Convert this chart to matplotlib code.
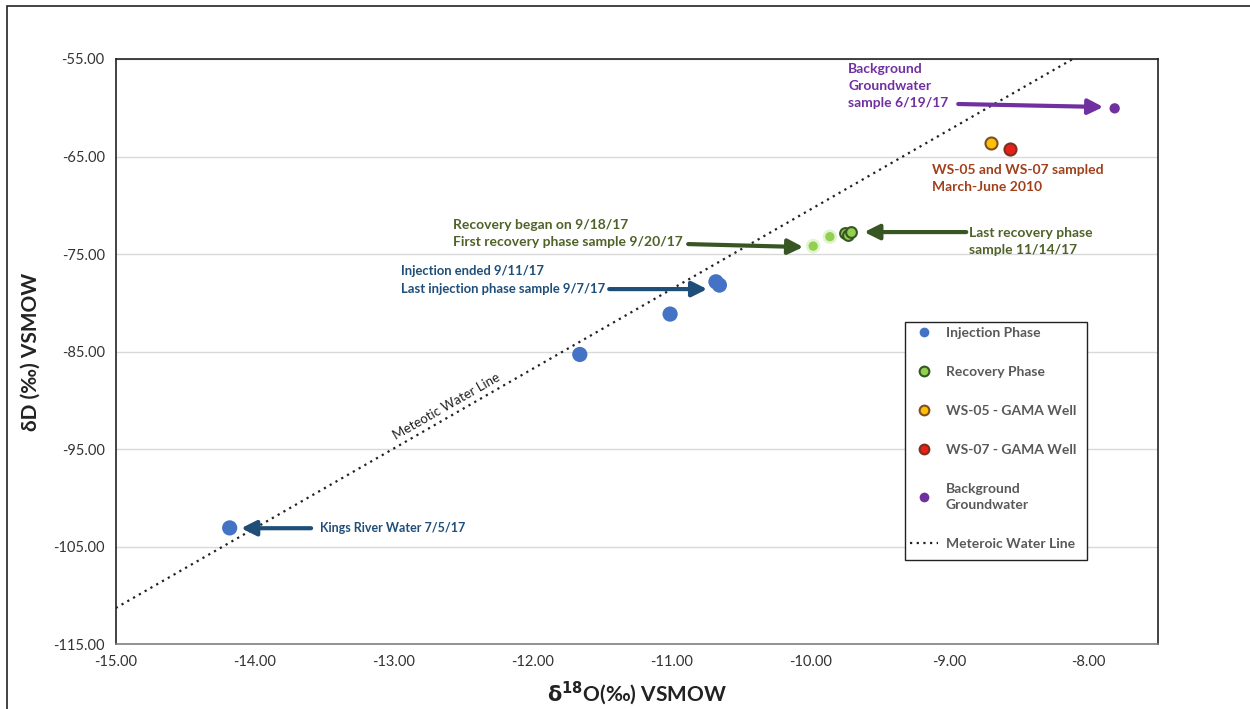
import matplotlib
matplotlib.use("Agg")
import matplotlib.pyplot as plt
from matplotlib.lines import Line2D
import numpy as np

plt.rcParams['font.family'] = ['Lato', 'DejaVu Sans']

# ---- data ----
inj_x = [-14.18, -11.66, -11.01, -10.68, -10.655]
inj_y = [-103.07, -85.29, -81.15, -77.84, -78.18]
rec_x_early = [-9.98, -9.86]
rec_y_early = [-74.18, -73.22]
rec_x_late = [-9.75, -9.73, -9.71]
rec_y_late = [-72.88, -73.05, -72.78]
ws05_x, ws05_y = [-8.70], [-63.65]
ws07_x, ws07_y = [-8.56], [-64.23]
bg_x, bg_y = [-7.81], [-60.06]
gmwl_slope, gmwl_int = 8.17, 11.27
xticks = [-15, -14, -13, -12, -11, -10, -9, -8]
yticks = [-55, -65, -75, -85, -95, -105, -115]

BLUE = '#4472C4'
DBLUE = '#1F4E79'
GREEN = '#92D050'
DGREEN = '#375623'
TGREEN = '#4F6228'
PURPLE = '#7030A0'
BROWN = '#A0401C'
GOLD = '#FFC000'
RED = '#E8201A'

W, H = 1250, 709
fig = plt.figure(figsize=(12.5, 7.09), dpi=100)
ax = fig.add_axes([0.0926, 0.0913, 0.8336, 0.8255])

# figure border
fig.add_artist(plt.Rectangle((7/W, -0.01), 1.2, 1 - 6/H + 0.01, transform=fig.transFigure,
                             fill=False, edgecolor='#222222', lw=1.2))

ax.set_xlim(-15, -7.5)
ax.set_ylim(-115, -55)
ax.set_xticks(xticks)
ax.set_yticks(yticks)
ax.set_xticklabels([f"{v:.2f}" for v in xticks])
ax.set_yticklabels([f"{v:.2f}" for v in yticks])
ax.tick_params(length=0, labelsize=10.5, colors='#333333', pad=8)
ax.grid(axis='y', color='#D9D9D9', lw=1)
ax.set_axisbelow(True)
for s in ['top', 'right', 'left']:
    ax.spines[s].set_color('#222222')
    ax.spines[s].set_linewidth(1.2)
ax.spines['bottom'].set_color('#808080')
ax.spines['bottom'].set_linewidth(1.2)

# meteoric water line
lx = np.array([-15, -7.5])
ax.plot(lx, gmwl_slope * lx + gmwl_int, ls=(0, (1, 2)), color='#222222', lw=1.6, zorder=2)
ax.text(-12.62, -90.6, 'Meteotic Water Line', rotation=29.8, fontsize=9.5,
        ha='center', va='center', color='#222222', rotation_mode='anchor')

# points
ax.scatter(inj_x, inj_y, s=120, color=BLUE, zorder=4, edgecolors='none')
ax.scatter(rec_x_early, rec_y_early, s=110, color=GREEN, alpha=0.25, zorder=3, edgecolors='none')
ax.scatter(rec_x_early, rec_y_early, s=45, color=GREEN, zorder=4, edgecolors='none')
ax.scatter(rec_x_late, rec_y_late, s=60, color=GREEN, edgecolors=DGREEN, linewidths=1.5, zorder=4)
ax.scatter(ws05_x, ws05_y, s=75, color=GOLD, edgecolors='#7F4F1F', linewidths=1.5, zorder=4)
ax.scatter(ws07_x, ws07_y, s=75, color=RED, edgecolors='#7F2F1F', linewidths=1.5, zorder=4)
ax.scatter(bg_x, bg_y, s=55, color=PURPLE, edgecolors='none', zorder=4)

def arrow(x0, y0, x1, y1, color):
    ax.annotate('', xy=(x1, y1), xytext=(x0, y0),
                arrowprops=dict(arrowstyle='-|>,head_length=0.9,head_width=0.45',
                                color=color, lw=3, shrinkA=0, shrinkB=0), zorder=5)

def px(x):
    return -15 + (x - 115.7) / 138.9

def py(y):
    return -55 - (y - 59) / 9.75

fs = 10
LS = 1.5
# Background groundwater
ax.text(px(848), py(63), 'Background\nGroundwater\nsample 6/19/17', color=PURPLE, fontsize=fs,
        fontweight='bold', ha='left', va='top', linespacing=LS)
arrow(px(958), py(104), px(1103), py(107), PURPLE)
# WS wells
ax.text(px(932), py(164), 'WS-05 and WS-07 sampled\nMarch-June 2010', color=BROWN, fontsize=fs,
        fontweight='bold', ha='left', va='top', linespacing=LS)
# recovery
ax.text(px(453), py(219), 'Recovery began on 9/18/17\nFirst recovery phase sample 9/20/17',
        color=TGREEN, fontsize=fs, fontweight='bold', ha='left', va='top', linespacing=LS)
arrow(px(688), py(244), px(803), py(247), DGREEN)
ax.text(px(969), py(227), 'Last recovery phase\nsample 11/14/17', color=TGREEN, fontsize=fs,
        fontweight='bold', ha='left', va='top', linespacing=LS)
arrow(px(966), py(232), px(864), py(232), DGREEN)
# injection
ax.text(px(401), py(265), 'Injection ended 9/11/17\nLast injection phase sample 9/7/17',
        color=DBLUE, fontsize=9.4, fontweight='bold', ha='left', va='top', linespacing=1.55)
arrow(px(609), py(289), px(707), py(289), DBLUE)
# Kings river
ax.text(px(320), py(528), 'Kings River Water 7/5/17', color=DBLUE, fontsize=9,
        fontweight='bold', ha='left', va='center')
arrow(px(311), py(528), px(241), py(528), DBLUE)

# axis labels
ax.set_xlabel(r'$\mathbf{\delta^{18}}$O(‰) VSMOW', fontsize=15, fontweight='bold', color='#222222', labelpad=8)
ax.xaxis.set_label_coords(0.5, -0.06)
ax.set_ylabel('δD (‰) VSMOW', fontsize=15, fontweight='bold', color='#222222')
ax.yaxis.set_label_coords(-0.072, 0.5)

# legend box (drawn manually to match the taller frame)
lx0, lx1, ly0, ly1 = 905, 1087, 322, 560
fig.add_artist(plt.Rectangle((lx0 / W, 1 - ly1 / H), (lx1 - lx0) / W, (ly1 - ly0) / H,
                             transform=fig.transFigure, facecolor='white',
                             edgecolor='#222222', lw=1.0, zorder=5))

handles = [
    Line2D([], [], ls='none', marker='o', ms=7, color=BLUE, mec='none'),
    Line2D([], [], ls='none', marker='o', ms=7, color=GREEN, mec=DGREEN, mew=1.5),
    Line2D([], [], ls='none', marker='o', ms=7, color=GOLD, mec='#7F4F1F', mew=1.5),
    Line2D([], [], ls='none', marker='o', ms=7, color=RED, mec='#7F2F1F', mew=1.5),
    Line2D([], [], ls='none', marker='o', ms=7, color=PURPLE, mec='none'),
    Line2D([], [], ls=(0, (1, 2)), color='#222222', lw=1.6),
]
labels = ['Injection Phase', 'Recovery Phase', 'WS-05 - GAMA Well', 'WS-07 - GAMA Well',
          'Background\nGroundwater', 'Meteroic Water Line']
leg = fig.legend(handles, labels, loc='upper left', bbox_to_anchor=(lx0 / W, 1 - ly0 / H),
                 frameon=False, labelspacing=1.95,
                 handlelength=2.0, handletextpad=0.6, borderpad=0.35, borderaxespad=0,
                 prop={'weight': 'bold', 'size': 10})
leg.set_zorder(6)
for t in leg.get_texts():
    t.set_color('#595959')
    t.set_linespacing(1.35)

fig.savefig('out.png', dpi=100)
